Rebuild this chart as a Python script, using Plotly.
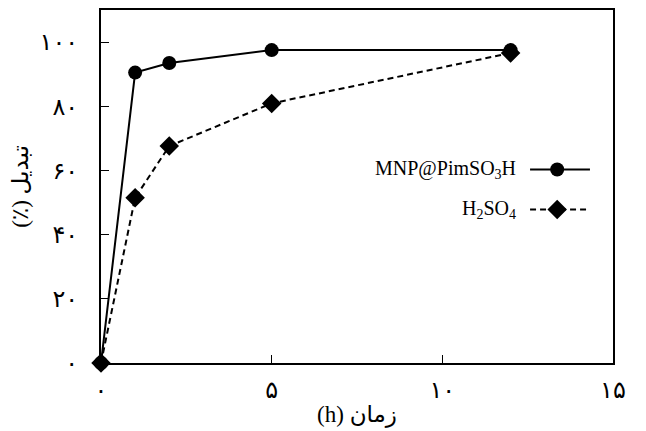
import plotly.graph_objects as go

# Reaction time (h) and conversion (%) for the two catalysts
time_h = [0, 1, 2, 5, 12]
conv_mnp = [0, 90.5, 93.5, 97.5, 97.5]
conv_h2so4 = [0, 51.5, 67.6, 80.9, 96.6]

series_names = ["MNP@PimSO<sub>3</sub>H", "H<sub>2</sub>SO<sub>4</sub>"]

x_tick_vals = [0, 5, 10, 15]
x_tick_text = ["۰", "۵", "۱۰", "۱۵"]
y_tick_vals = [0, 20, 40, 60, 80, 100]
y_tick_text = ["۰", "۲۰", "۴۰", "۶۰", "۸۰", "۱۰۰"]

# Written in visual (left-to-right) order so the unit sits on the left
x_title = "(h) زمان"
y_title = "(٪) تبدیل"

FONT = "Liberation Serif, Times New Roman, DejaVu Sans, serif"

fig = go.Figure()

fig.add_trace(go.Scatter(
    x=time_h, y=conv_mnp, mode="lines+markers",
    line=dict(color="black", width=2),
    marker=dict(symbol="circle", size=14, color="black"),
    cliponaxis=False, showlegend=False,
))
fig.add_trace(go.Scatter(
    x=time_h, y=conv_h2so4, mode="lines+markers",
    line=dict(color="black", width=2, dash="6px,4px"),
    marker=dict(symbol="diamond", size=15, color="black"),
    cliponaxis=False, showlegend=False,
))

# Legend keys drawn on an overlay axis spanning the plot area
key_x = [0.838, 0.891, 0.955]
key_rows = [(0.548, "solid", "circle", 14), (0.435, "6px,4px", "diamond", 15)]
for (ky, dash, sym, size), name in zip(key_rows, series_names):
    fig.add_trace(go.Scatter(
        x=key_x, y=[ky] * 3, mode="lines",
        line=dict(color="black", width=2, dash=dash),
        xaxis="x2", yaxis="y2", showlegend=False, hoverinfo="skip",
    ))
    fig.add_trace(go.Scatter(
        x=[key_x[1]], y=[ky], mode="markers",
        marker=dict(symbol=sym, size=size, color="black"),
        xaxis="x2", yaxis="y2", showlegend=False, hoverinfo="skip",
    ))
    fig.add_annotation(
        x=0.815, y=ky, xref="paper", yref="paper",
        text=name, showarrow=False, xanchor="right", yanchor="middle",
        font=dict(family=FONT, size=20, color="black"),
    )

fig.update_layout(
    width=646, height=431,
    margin=dict(l=101, r=33, t=8, b=67),
    paper_bgcolor="white", plot_bgcolor="white",
    font=dict(family=FONT, size=20, color="black"),
    xaxis=dict(
        range=[0, 15], tickvals=x_tick_vals, ticktext=x_tick_text,
        ticks="inside", ticklen=8, tickwidth=1, tickcolor="black",
        showline=True, linecolor="black", linewidth=2, mirror=True,
        showgrid=False, zeroline=False,
        ticklabelstandoff=4,
        title=dict(text=x_title, standoff=4, font=dict(size=23)),
        tickfont=dict(size=24),
    ),
    yaxis=dict(
        range=[0, 110], tickvals=y_tick_vals, ticktext=y_tick_text,
        ticks="inside", ticklen=8, tickwidth=1, tickcolor="black",
        showline=True, linecolor="black", linewidth=2, mirror=True,
        showgrid=False, zeroline=False,
        ticklabelstandoff=16,
        title=dict(text=y_title, standoff=4, font=dict(size=23)),
        tickfont=dict(size=24),
    ),
    xaxis2=dict(range=[0, 1], overlaying="x", visible=False, fixedrange=True),
    yaxis2=dict(range=[0, 1], overlaying="y", visible=False, fixedrange=True),
)

fig.write_html("out.html")
